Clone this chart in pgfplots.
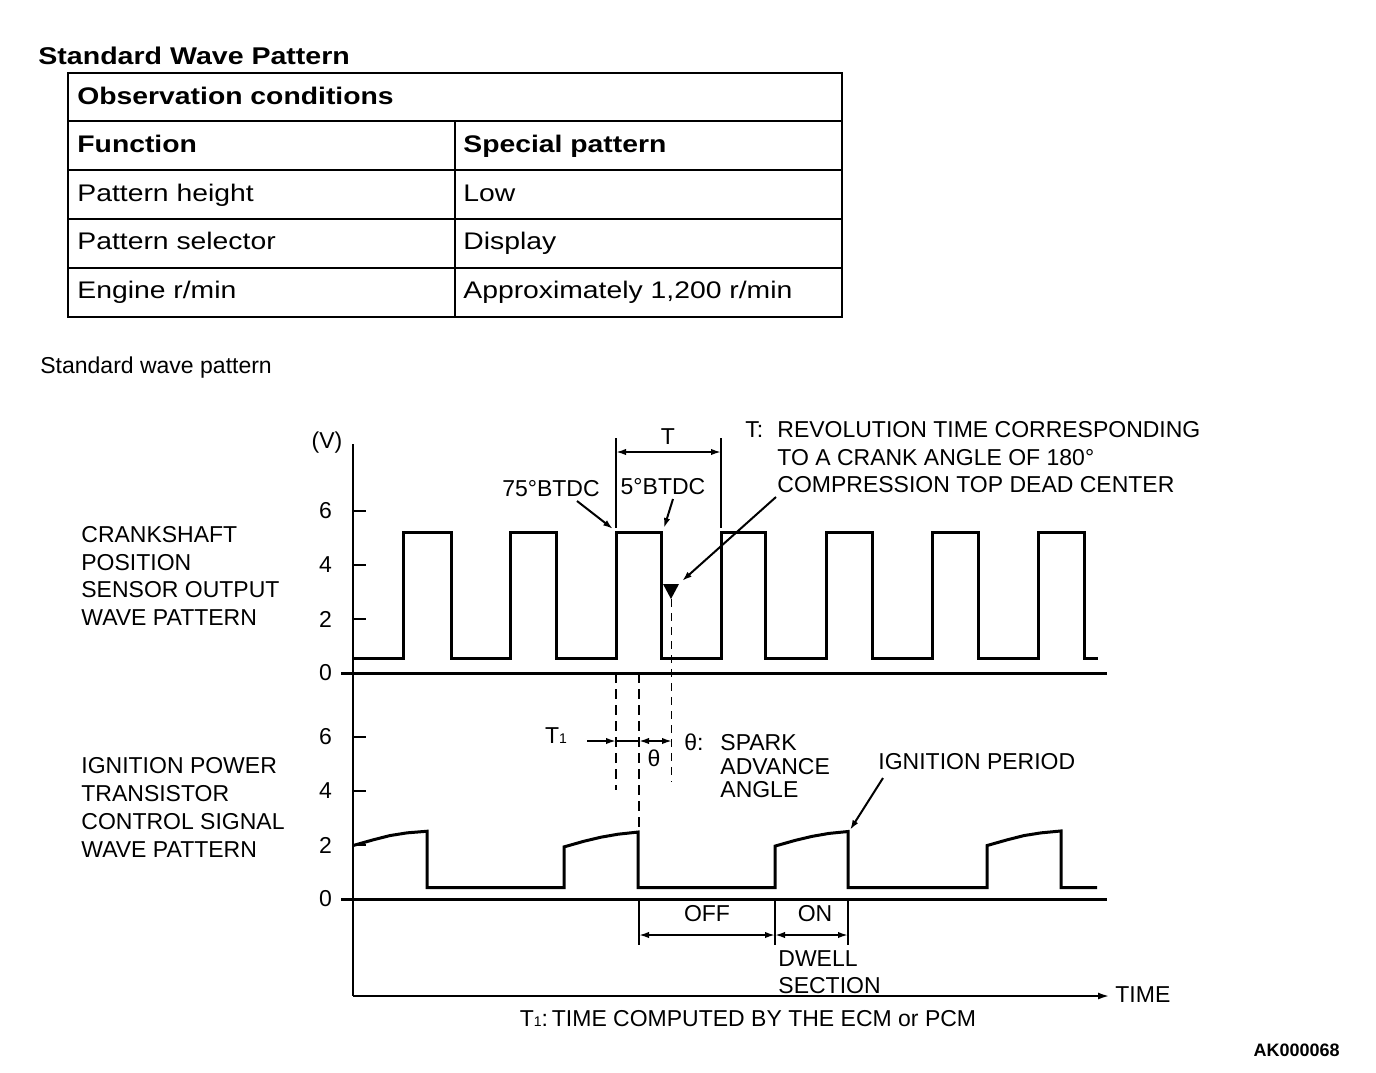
\documentclass[border=0pt]{standalone}
\usepackage{fontspec}
\setmainfont{Liberation Sans}
\newfontfamily\tabfont[FakeStretch=1.18]{Liberation Sans}
\usepackage{pgfplots}
\pgfplotsset{compat=1.18}
\usetikzlibrary{arrows.meta}
\newcommand\dfont{\fontsize{11.5pt}{13pt}\selectfont}
\newcommand\tfont{\tabfont\fontsize{12pt}{14pt}\selectfont}

\pgfplotstableread{
t v
0 0.52
50 0.52
50 5.22
98 5.22
98 0.52
157 0.52
157 5.22
203 5.22
203 0.52
263 0.52
263 5.22
308 5.22
308 0.52
368 0.52
368 5.22
412 5.22
412 0.52
473 0.52
473 5.22
519 5.22
519 0.52
579 0.52
579 5.22
625 5.22
625 0.52
685 0.52
685 5.22
731 5.22
731 0.52
745 0.52
}\crank

\pgfplotstableread{
t v
0 1.98
20 2.19
37 2.35
54 2.45
74 2.51
74 0.42
211 0.42
211 1.93
231 2.14
248 2.29
265 2.40
285 2.48
285 0.42
422 0.42
422 1.96
442 2.17
459 2.32
476 2.43
495 2.50
495 0.42
634 0.42
634 1.98
654 2.19
671 2.35
688 2.45
708 2.52
708 0.42
744 0.42
}\ignition

\pgfplotsset{
  wave axis/.style={
    anchor=south west, x=0.5pt, y=13.5pt,
    xmin=0, xmax=754, ymin=0,
    axis x line=bottom, axis y line=left,
    axis line style={draw=none},
    xtick=\empty, ytick={0,2,4,6},
    tick align=inside, major tick length=6.5pt,
    ytick style={line width=1pt, black},
    yticklabel style={font=\dfont, xshift=-7pt},
    /pgf/number format/assume math mode=true,
    clip=false,
  }
}

\begin{document}
\begin{tikzpicture}
\useasboundingbox (0,0) rectangle (688pt,-536pt);
\fill[white] (0,0) rectangle (688pt,-536pt);

\begin{axis}[wave axis, at={(176.5pt,-336.5pt)}, ymax=8.5]
\addplot[line width=1.5pt, black, line join=miter] table[x=t, y=v] {\crank};
\end{axis}

\begin{axis}[wave axis, at={(176.5pt,-449.5pt)}, ymax=6.5]
\addplot[line width=1.5pt, black, line join=miter] table[x=t, y=v] {\ignition};
\end{axis}

\begin{scope}[x=0.5pt, y=-0.5pt, font=\dfont, every node/.style={inner sep=0pt}, >={Latex[length=5pt,width=3.2pt]}]
% title and table
\node[anchor=base west, font={\tabfont\bfseries\fontsize{12.1pt}{14pt}\selectfont}] at (38,64) {Standard Wave Pattern};
\draw[line width=1.1pt] (68,73) rectangle (842,317);
\foreach \yy in {121,170,219,268} \draw[line width=0.9pt] (68,\yy)--(842,\yy);
\draw[line width=0.9pt] (455,121)--(455,317);
\node[anchor=base west, font={\tfont\bfseries}] at (77,104) {Observation conditions};
\node[anchor=base west, font={\tfont\bfseries}] at (77,152) {Function};
\node[anchor=base west, font={\tfont\bfseries}] at (463,152) {Special pattern};
\node[anchor=base west, font=\tfont] at (77,201) {Pattern height};
\node[anchor=base west, font=\tfont] at (463,201) {Low};
\node[anchor=base west, font=\tfont] at (77,249) {Pattern selector};
\node[anchor=base west, font=\tfont] at (463,249) {Display};
\node[anchor=base west, font=\tfont] at (77,298) {Engine r/min};
\node[anchor=base west, font=\tfont] at (463,298) {Approximately 1,200 r/min};

\node[anchor=base west] at (40,373) {Standard wave pattern};

% axes lines
\draw[line width=1pt] (353,444) -- (353,996);
\draw[line width=1.5pt] (341,673) -- (1107,673);
\draw[line width=1.5pt] (341,899) -- (1107,899);
\draw[line width=1.2pt, -{Latex[length=6pt,width=3.5pt]}] (353,996) -- (1110,996);
\node[anchor=base west] at (1115,1002) {TIME};
\node at (327,443) {(V)};

% left labels
\node[anchor=base west] at (81,542) {CRANKSHAFT};
\node[anchor=base west] at (81,570) {POSITION};
\node[anchor=base west] at (81,597) {SENSOR OUTPUT};
\node[anchor=base west] at (81,625) {WAVE PATTERN};
\node[anchor=base west] at (81,773) {IGNITION POWER};
\node[anchor=base west] at (81,801) {TRANSISTOR};
\node[anchor=base west] at (81,829) {CONTROL SIGNAL};
\node[anchor=base west] at (81,857) {WAVE PATTERN};

% T dimension
\draw[line width=0.8pt] (616,438) -- (616,528);
\draw[line width=0.8pt] (721,438) -- (721,528);
\draw[line width=0.9pt, <->] (616,452) -- (721,452);
\node[anchor=base] at (668,444) {T};
\node[anchor=base] at (551,496) {75°BTDC};
\node[anchor=base] at (663,494) {5°BTDC};
\draw[line width=1pt, ->] (577,501) -- (613,529);
\draw[line width=1pt, ->] (673,499) -- (664,528);

% T explanation
\node[anchor=base west] at (745,437) {T:};
\node[anchor=base west] at (777,437) {REVOLUTION TIME CORRESPONDING};
\node[anchor=base west] at (777,465) {TO A CRANK ANGLE OF 180°};
\node[anchor=base west] at (777,492) {COMPRESSION TOP DEAD CENTER};
\draw[line width=1pt, ->] (776,497) -- (682,581);
\fill (663,584) -- (679,584) -- (671,599) -- cycle;

% dashed lines
\draw[line width=0.9pt, dash pattern=on 5pt off 3pt] (616,673) -- (616,790);
\draw[line width=0.9pt, dash pattern=on 5pt off 3pt] (639,673) -- (639,832);
\draw[line width=0.5pt, dash pattern=on 4pt off 3pt] (671,599) -- (671,782);

% T1 and theta
\node[anchor=base] at (556,743) {T{\fontsize{7pt}{8pt}\selectfont 1}};
\draw[line width=0.9pt, ->] (587,741) -- (616,741);
\draw[line width=0.9pt] (616,741) -- (639,741);
\draw[line width=0.9pt, <->] (639,741) -- (672,741);
\node at (654,758) {θ};
\node[anchor=base west] at (684,750) {θ:};
\node[anchor=base west] at (720,750) {SPARK};
\node[anchor=base west] at (720,774) {ADVANCE};
\node[anchor=base west] at (720,797) {ANGLE};

% ignition period
\node[anchor=base west] at (878,769) {IGNITION PERIOD};
\draw[line width=1pt, ->] (883,778) -- (850,830);

% OFF / ON
\draw[line width=0.8pt] (639,899) -- (639,945);
\draw[line width=0.8pt] (775,899) -- (775,945);
\draw[line width=0.8pt] (848,899) -- (848,945);
\draw[line width=0.9pt, <->] (639,935) -- (775,935);
\draw[line width=0.9pt, <->] (775,935) -- (848,935);
\node[anchor=base] at (707,921) {OFF};
\node[anchor=base] at (815,921) {ON};
\node[anchor=base west] at (778,966) {DWELL};
\node[anchor=base west] at (778,993) {SECTION};

\node[anchor=base] at (748,1026) {T{\fontsize{7pt}{8pt}\selectfont 1}:\,TIME COMPUTED BY THE ECM or PCM};
\node[anchor=base east, font={\bfseries\fontsize{9pt}{10pt}\selectfont}] at (1340,1056) {AK000068};
\end{scope}
\end{tikzpicture}
\end{document}
